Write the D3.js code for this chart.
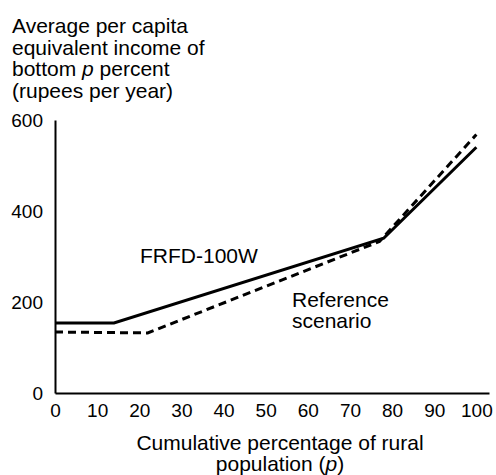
<!DOCTYPE html>
<html>
<head>
<meta charset="utf-8">
<script src="https://cdnjs.cloudflare.com/ajax/libs/d3/7.8.5/d3.min.js"></script>
<style>
body{ margin:0; background:#fff; }
svg{ display:block; font-family:"Liberation Sans", Arial, sans-serif; }
</style>
</head>
<body>
<div id="chart"></div>
<script>
//Tick labels
var percentTicks = [0, 10, 20, 30, 40, 50, 60, 70, 80, 90, 100];
var incomeTicks = [0, 200, 400, 600];

//FRFD-100W (solid line)
var frfdPercent = [0, 14, 78, 100];
var frfdIncome = [154, 154, 340, 540];

//Reference scenario (dashed line)
var refPercent = [0, 22, 77, 100];
var refIncome = [134, 132, 333, 568];

var yTitle = ["Average per capita", "equivalent income of", "bottom |p| percent", "(rupees per year)"];
var xTitle = ["Cumulative percentage of rural", "population (|p|)"];

var width = 496;
var height = 475;

var svg = d3.select("#chart")
    .append("svg")
    .attr("width", width)
    .attr("height", height);

//Axis runs a bit past 100, as in the figure
var x = d3.scaleLinear().domain([0, 103]).range([55, 489]);
var y = d3.scaleLinear().domain([0, 600]).range([393, 120]);

//Writes a line of text, parts between | are set in italic
function writeLine( sel, str ){
    str.split("|").forEach(function( part, i ){
        sel.append("tspan")
            .style("font-style", i % 2 ? "italic" : "normal")
            .text(part);
    });
}

var xAxis = svg.append("g")
    .attr("transform", "translate(0," + y(0) + ")")
    .call(d3.axisBottom(x).tickValues(percentTicks).tickSize(0).tickPadding(11));

var yAxis = svg.append("g")
    .attr("transform", "translate(" + x(0) + ",0)")
    .call(d3.axisLeft(y).tickValues(incomeTicks).tickSize(0).tickPadding(12));

[xAxis, yAxis].forEach(function( g ){
    g.select(".domain").attr("stroke", "#000").attr("stroke-width", 2);
    g.selectAll("text").attr("fill", "#000").style("font-size", "19px").attr("font-family", null);
});

var line = d3.line()
    .x(function( d ){ return x(d[0]); })
    .y(function( d ){ return y(d[1]); });

svg.append("path")
    .datum(d3.zip(refPercent, refIncome))
    .attr("d", line)
    .attr("fill", "none")
    .attr("stroke", "#000")
    .attr("stroke-width", 3)
    .attr("stroke-dasharray", "8,5");

svg.append("path")
    .datum(d3.zip(frfdPercent, frfdIncome))
    .attr("d", line)
    .attr("fill", "none")
    .attr("stroke", "#000")
    .attr("stroke-width", 3);

//Y axis title, top left
yTitle.forEach(function( str, i ){
    writeLine(svg.append("text")
        .attr("x", 12)
        .attr("y", 33 + i * 21.7)
        .style("font-size", "21px"), str);
});

//X axis title, centred under the axis
xTitle.forEach(function( str, i ){
    writeLine(svg.append("text")
        .attr("x", 280)
        .attr("y", 450 + i * 21)
        .attr("text-anchor", "middle")
        .style("font-size", "21px"), str);
});

//Line labels
svg.append("text")
    .attr("x", 140)
    .attr("y", 263)
    .style("font-size", "21px")
    .text("FRFD-100W");

["Reference", "scenario"].forEach(function( str, i ){
    svg.append("text")
        .attr("x", 292)
        .attr("y", 307 + i * 21)
        .style("font-size", "21px")
        .text(str);
});
</script>
</body>
</html>
